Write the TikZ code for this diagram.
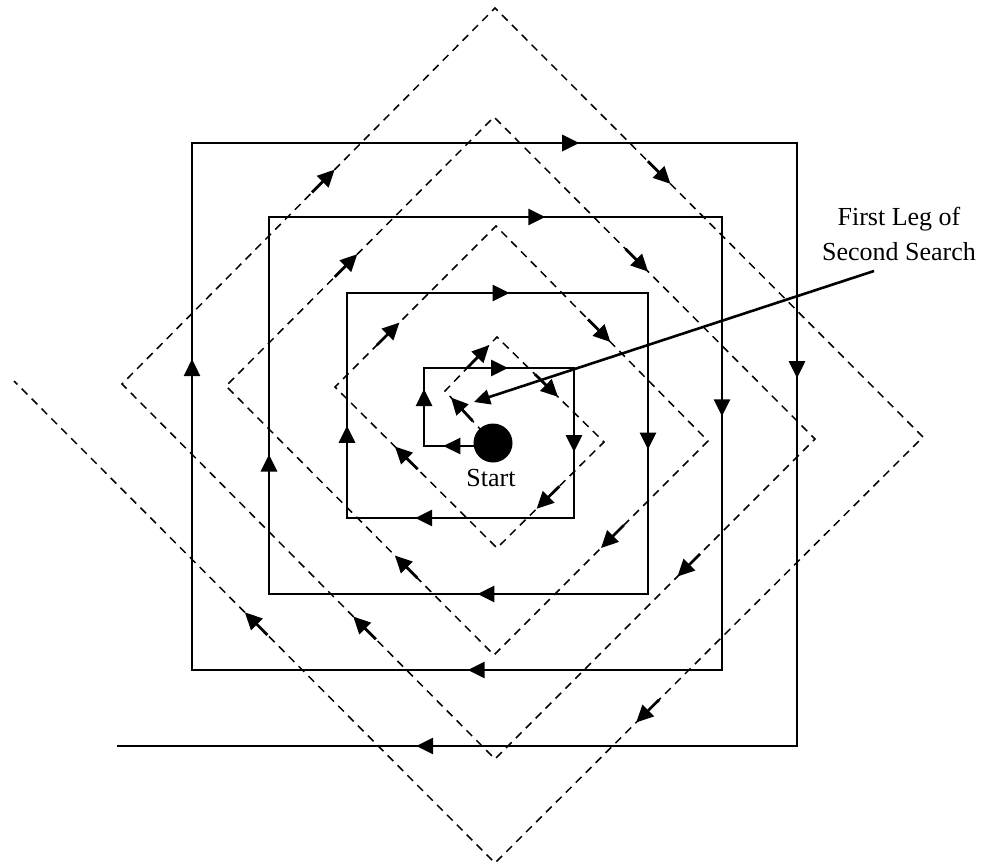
\documentclass[tikz,border=0pt]{standalone}
\usepackage{fontspec}
\setmainfont{Liberation Serif}
\usetikzlibrary{calc,arrows.meta}
\newcommand\mkarrow[3]{\draw[tipline] ($(#1)!#3!(#2)!32pt!(#1)$) -- ($(#1)!#3!(#2)$);}
\tikzset{
  solidline/.style={line width=2pt, line join=miter},
  dashline/.style={line width=1.5pt, dash pattern=on 8pt off 6pt},
  tipline/.style={line width=2.8pt, solid, -{Triangle[length=17pt 0,width=16pt 0]}},
  pointer/.style={line width=2.6pt, -{Triangle[length=16pt 0,width=15pt 0]}},
  lbl/.style={font=\fontsize{26}{35}\selectfont, inner sep=0pt, align=center},
  dot/.style={circle, fill=black, minimum size=39pt, inner sep=0pt}
}
\begin{document}
\begin{tikzpicture}[x=1pt,y=-1pt]
\useasboundingbox (0,0) rectangle (990,866);
% solid spiral corners
\coordinate (S0) at (493,446);
\coordinate (S1) at (424,446);
\coordinate (S2) at (424,368);
\coordinate (S3) at (574,368);
\coordinate (S4) at (574,518);
\coordinate (S5) at (347,518);
\coordinate (S6) at (347,293);
\coordinate (S7) at (648,293);
\coordinate (S8) at (648,594);
\coordinate (S9) at (269,594);
\coordinate (S10) at (269,217);
\coordinate (S11) at (722,217);
\coordinate (S12) at (722,670);
\coordinate (S13) at (192,670);
\coordinate (S14) at (192,143);
\coordinate (S15) at (797,143);
\coordinate (S16) at (797,746);
\coordinate (S17) at (117,746);
% dashed spiral corners
\coordinate (D0) at (493,443);
\coordinate (D1) at (445,391);
\coordinate (D2) at (497,337);
\coordinate (D3) at (604,442);
\coordinate (D4) at (497,548);
\coordinate (D5) at (335,387);
\coordinate (D6) at (496,226);
\coordinate (D7) at (708,441);
\coordinate (D8) at (494,655);
\coordinate (D9) at (226,386);
\coordinate (D10) at (494,117);
\coordinate (D11) at (815,439);
\coordinate (D12) at (495,759);
\coordinate (D13) at (122,384);
\coordinate (D14) at (495,8);
\coordinate (D15) at (923,437);
\coordinate (D16) at (495,863);
\coordinate (D17) at (14,381);

\draw[dashline] (D0) -- (D1) -- (D2) -- (D3) -- (D4) -- (D5) -- (D6) -- (D7) -- (D8)
  -- (D9) -- (D10) -- (D11) -- (D12) -- (D13) -- (D14) -- (D15) -- (D16) -- (D17);
\draw[solidline] (S0) -- (S1) -- (S2) -- (S3) -- (S4) -- (S5) -- (S6) -- (S7) -- (S8)
  -- (S9) -- (S10) -- (S11) -- (S12) -- (S13) -- (S14) -- (S15) -- (S16) -- (S17);

% solid arrows
\mkarrow{S0}{S1}{0.72}
\mkarrow{S1}{S2}{0.73}
\mkarrow{S2}{S3}{0.56}
\mkarrow{S3}{S4}{0.56}
\mkarrow{S4}{S5}{0.70}
\mkarrow{S5}{S6}{0.41}
\mkarrow{S6}{S7}{0.54}
\mkarrow{S7}{S8}{0.52}
\mkarrow{S8}{S9}{0.45}
\mkarrow{S9}{S10}{0.37}
\mkarrow{S10}{S11}{0.61}
\mkarrow{S11}{S12}{0.44}
\mkarrow{S12}{S13}{0.48}
\mkarrow{S13}{S14}{0.59}
\mkarrow{S14}{S15}{0.64}
\mkarrow{S15}{S16}{0.39}
\mkarrow{S16}{S17}{0.56}
% dashed arrows
\mkarrow{D0}{D1}{0.875}
\mkarrow{D1}{D2}{0.85}
\mkarrow{D2}{D3}{0.57}
\mkarrow{D3}{D4}{0.63}
\mkarrow{D4}{D5}{0.63}
\mkarrow{D5}{D6}{0.40}
\mkarrow{D6}{D7}{0.54}
\mkarrow{D7}{D8}{0.50}
\mkarrow{D8}{D9}{0.37}
\mkarrow{D9}{D10}{0.49}
\mkarrow{D10}{D11}{0.48}
\mkarrow{D11}{D12}{0.43}
\mkarrow{D12}{D13}{0.38}
\mkarrow{D13}{D14}{0.57}
\mkarrow{D14}{D15}{0.41}
\mkarrow{D15}{D16}{0.67}
\mkarrow{D16}{D17}{0.52}

\node[dot] (startdot) at (493,443) {};
\node[lbl, anchor=base] (start) at (491,486) {Start};
\node[lbl] (leglabel) at (899,234) {First Leg of\\Second Search};
\coordinate (ptrend) at (874,271);
\coordinate (ptrtip) at (474,402);
\draw[pointer] (ptrend) -- (ptrtip);
\end{tikzpicture}
\end{document}
